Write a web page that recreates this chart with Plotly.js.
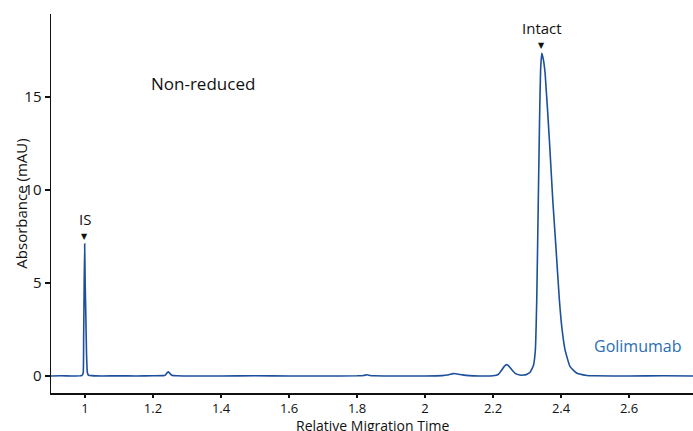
<!DOCTYPE html>
<html>
<head>
<meta charset="utf-8">
<script src="https://cdn.plot.ly/plotly-3.0.1.min.js"></script>
<style>html,body{margin:0;padding:0;background:#fff;}#chart{width:693px;height:431px;}</style>
</head>
<body>
<div id="chart"></div>
<script>
// Relative migration time (x) and absorbance in mAU (y)
const migrationTime = [
  0.9, 0.93, 0.96, 0.985, 0.99,
  0.9945, 0.996, 0.9975, 0.999, 1.0005, 1.0025, 1.0045, 1.0068, 1.01, 1.02,
  1.05, 1.1, 1.15, 1.2, 1.23,
  1.236, 1.242, 1.245, 1.249, 1.255, 1.27,
  1.3, 1.4, 1.5, 1.6, 1.7, 1.8,
  1.82, 1.829, 1.838, 1.85, 1.9, 2.0,
  2.05, 2.07, 2.083, 2.095, 2.11, 2.13, 2.16, 2.2,
  2.215, 2.2255, 2.233, 2.24, 2.247, 2.255, 2.265, 2.279, 2.29, 2.3,
  2.309, 2.3185, 2.3244, 2.3285, 2.333, 2.3368, 2.3397, 2.3432, 2.347, 2.353,
  2.3656, 2.3756, 2.385, 2.395, 2.403, 2.4118, 2.4265, 2.446, 2.4756,
  2.5, 2.6, 2.7, 2.788
];
const absorbance = [
  0.0, 0.01, 0.0, 0.01, 0.02,
  0.15, 2.0, 4.8, 7.1, 5.0, 3.2, 1.2, 0.2, 0.05, 0.02,
  0.0, 0.01, 0.0, 0.01, 0.02,
  0.05, 0.18, 0.22, 0.15, 0.04, 0.01,
  0.0, 0.0, 0.01, 0.0, 0.0, 0.01,
  0.03, 0.07, 0.03, 0.01, 0.0, 0.0,
  0.02, 0.07, 0.13, 0.11, 0.06, 0.02, 0.0, 0.01,
  0.08, 0.32, 0.52, 0.61, 0.52, 0.34, 0.14, 0.05, 0.05, 0.1,
  0.2, 0.55, 1.4, 4.1, 9.4, 13.8, 16.4, 17.35, 17.1, 16.3,
  12.7, 9.46, 6.9, 4.1, 2.5, 1.4, 0.5, 0.16, 0.03,
  0.01, 0.0, 0.01, 0.0
];
const xTicks = [1, 1.2, 1.4, 1.6, 1.8, 2, 2.2, 2.4, 2.6];
const yTicks = [0, 5, 10, 15];
const peakLabels = ["IS", "Intact"];
const peakX = [0.999, 2.3432];
const peakY = [7.1, 17.35];

const FONT = "Open Sans, Noto Sans, sans-serif";
const annotations = [];
for (let i = 0; i < peakLabels.length; i++) {
  annotations.push({x: peakX[i], y: peakY[i], xref: 'x', yref: 'y', text: peakLabels[i],
    showarrow: false, yanchor: 'bottom', yshift: 13, font: {family: FONT, size: 15, color: '#111'}});
  annotations.push({x: peakX[i], y: peakY[i], xref: 'x', yref: 'y', text: '▼',
    showarrow: false, yanchor: 'bottom', yshift: 1, font: {family: 'DejaVu Sans', size: 8, color: '#111'}});
}
annotations.push({x: 1.347, y: 15.7, xref: 'x', yref: 'y', text: 'Non-reduced', showarrow: false,
  font: {family: FONT, size: 17, color: '#111'}});
annotations.push({x: 2.624, y: 1.61, xref: 'x', yref: 'y', text: 'Golimumab', showarrow: false,
  font: {family: FONT, size: 16, color: '#2a6db1'}});
annotations.push({x: 0.5, y: -0.0845, xref: 'paper', yref: 'paper', text: 'Relative Migration Time',
  showarrow: false, yanchor: 'middle', font: {family: FONT, size: 14, color: '#111'}});
annotations.push({x: -0.048, y: 0.5, xref: 'paper', yref: 'paper', text: 'Absorbance (mAU)',
  showarrow: false, textangle: -90, xanchor: 'center', yanchor: 'middle',
  font: {family: FONT, size: 15, color: '#111'}});

Plotly.newPlot('chart', [{
  x: migrationTime, y: absorbance, type: 'scatter', mode: 'lines',
  line: {color: '#1d4f9a', width: 1.6, shape: 'spline', smoothing: 0.4}
}], {
  width: 693, height: 431,
  margin: {l: 51, r: 0, t: 14, b: 38},
  paper_bgcolor: '#fff', plot_bgcolor: '#fff',
  showlegend: false,
  font: {family: FONT, size: 15, color: '#111'},
  xaxis: {range: [0.9, 2.788], tickvals: xTicks, ticks: 'outside', ticklen: 3, tickwidth: 1.2,
    tickcolor: '#111', showline: true, linecolor: '#111', linewidth: 1.5, showgrid: false, zeroline: false,
    tickfont: {family: FONT, size: 13, color: '#111'}},
  yaxis: {range: [-0.914, 19.46], tickvals: yTicks, ticks: 'outside', ticklen: 5, tickwidth: 1.2,
    tickcolor: '#111', showline: true, linecolor: '#111', linewidth: 1.5, showgrid: false, zeroline: false,
    tickfont: {family: FONT, size: 15, color: '#111'}},
  annotations: annotations
}, {displayModeBar: false, staticPlot: true});
</script>
</body>
</html>
